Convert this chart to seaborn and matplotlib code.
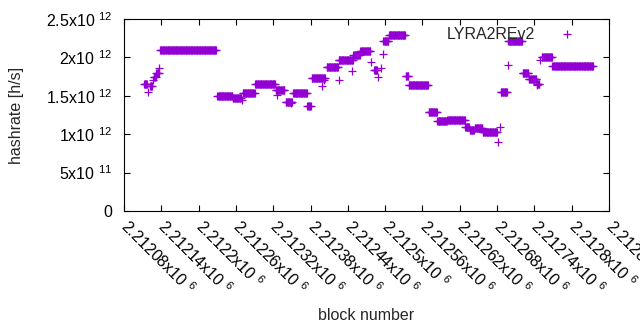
import numpy as np
import pandas as pd
import matplotlib
matplotlib.use("Agg")
import matplotlib.pyplot as plt
import seaborn as sns

# runs of blocks that share one hashrate estimate (start block, end block, rate in 1e12 h/s)
run_start = [2212112, 2212119, 2212122, 2212127, 2212128, 2212132, 2212137, 2212138,
             2212230, 2212255, 2212269, 2212271, 2212291, 2212324, 2212326, 2212340,
             2212348, 2212352, 2212375, 2212382, 2212398, 2212401, 2212406, 2212426,
             2212425, 2212447, 2212449, 2212460, 2212477, 2212482, 2212488, 2212493,
             2212496, 2212497, 2212506, 2212533, 2212538, 2212570, 2212584, 2212600,
             2212629, 2212636, 2212644, 2212657, 2212681, 2212684, 2212686, 2212697,
             2212698, 2212721, 2212731, 2212744, 2212745, 2212749, 2212752, 2212769]
run_end = [2212117, 2212119, 2212125, 2212127, 2212131, 2212136, 2212137, 2212228,
           2212254, 2212268, 2212269, 2212290, 2212323, 2212338, 2212326, 2212350,
           2212348, 2212374, 2212380, 2212403, 2212398, 2212401, 2212424, 2212426,
           2212448, 2212447, 2212459, 2212476, 2212477, 2212487, 2212488, 2212493,
           2212496, 2212505, 2212532, 2212537, 2212569, 2212583, 2212599, 2212628,
           2212635, 2212643, 2212656, 2212680, 2212681, 2212684, 2212696, 2212697,
           2212720, 2212730, 2212743, 2212748, 2212745, 2212749, 2212768, 2212834]
run_rate = [1.65, 1.55, 1.63, 1.70, 1.75, 1.80, 1.86, 2.09,
            1.50, 1.47, 1.45, 1.53, 1.65, 1.58, 1.51, 1.42,
            1.40, 1.53, 1.37, 1.73, 1.63, 1.71, 1.87, 1.70,
            1.97, 1.82, 2.03, 2.08, 1.94, 1.84, 1.75, 1.86,
            2.04, 2.22, 2.29, 1.76, 1.64, 1.29, 1.17, 1.185,
            1.10, 1.05, 1.08, 1.03, 0.90, 1.10, 1.55, 1.90,
            2.22, 1.80, 1.72, 1.66, 1.64, 1.97, 2.01, 1.89]

x_tick_values = [2212080, 2212140, 2212200, 2212260, 2212320, 2212380, 2212440,
                 2212500, 2212560, 2212620, 2212680, 2212740, 2212800, 2212860]
x_tick_labels = ["2.21208x10 $^{6}$", "2.21214x10 $^{6}$", "2.2122x10 $^{6}$",
                 "2.21226x10 $^{6}$", "2.21232x10 $^{6}$", "2.21238x10 $^{6}$",
                 "2.21244x10 $^{6}$", "2.2125x10 $^{6}$", "2.21256x10 $^{6}$",
                 "2.21262x10 $^{6}$", "2.21268x10 $^{6}$", "2.21274x10 $^{6}$",
                 "2.2128x10 $^{6}$", "2.21286x10 $^{6}$"]
y_tick_values = [0, 5e11, 1e12, 1.5e12, 2e12, 2.5e12]
y_tick_labels = ["0", "5x10 $^{11}$", "1x10 $^{12}$", "1.5x10 $^{12}$",
                 "2x10 $^{12}$", "2.5x10 $^{12}$"]

# one point per block
blocks, rates = [], []
for s, e, r in zip(run_start, run_end, run_rate):
    b = np.arange(s, e + 1)
    blocks.extend(b)
    rates.extend([r * 1e12] * len(b))
df = pd.DataFrame({"block": blocks, "hashrate": rates})

sns.set_style("ticks")
plt.rcParams["font.family"] = ["Liberation Sans", "DejaVu Sans"]
plt.rcParams["mathtext.default"] = "regular"
fs = 11.5

fig = plt.figure(figsize=(6.4, 3.3), dpi=100)
ax = fig.add_axes([124 / 640, 1 - 211 / 330, 485 / 640, 192 / 330])

sns.scatterplot(data=df, x="block", y="hashrate", marker="+", s=28,
                color="#9400D3", linewidth=0.9, label="LYRA2REv2", ax=ax)

ax.set_xlim(2212080, 2212860)
ax.set_ylim(0, 2.5e12)
ax.set_xticks(x_tick_values)
ax.set_xticklabels(x_tick_labels, rotation=-45, ha="left", va="center",
                   rotation_mode="anchor")
ax.set_yticks(y_tick_values)
ax.set_yticklabels(y_tick_labels)
ax.tick_params(direction="in", length=4, width=0.8, top=True, right=True,
               labelsize=fs, colors="black")
ax.tick_params(axis="y", pad=8.6)
ax.tick_params(axis="x", pad=9)
for sp in ax.spines.values():
    sp.set_linewidth(0.8)
    sp.set_color("black")

ax.set_xlabel("block number", fontsize=fs, va="center")
ax.xaxis.set_label_coords(0.5, -104 / 192)
ax.set_ylabel("hashrate [h/s]", fontsize=fs, va="center")
ax.yaxis.set_label_coords(-107 / 485, 0.5)

ax.legend(loc="upper right", bbox_to_anchor=(0.965, 0.96), frameon=False,
          markerfirst=False, borderpad=0, borderaxespad=0, handlelength=3.1,
          handletextpad=0.5, fontsize=fs, scatterpoints=1)

fig.savefig("out.png", dpi=100)
